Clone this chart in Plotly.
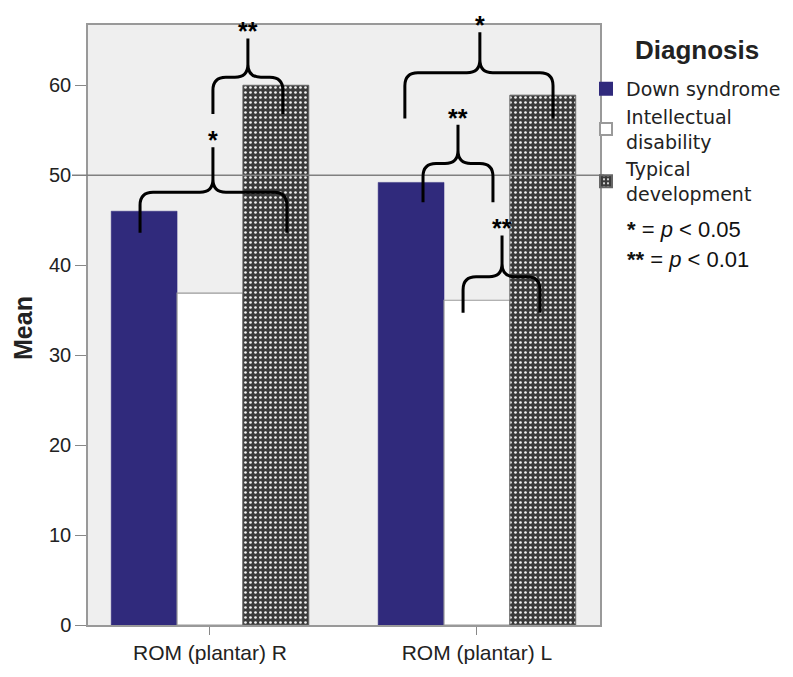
import plotly.graph_objects as go

# ---------------- data ----------------
categories = ["ROM (plantar) R", "ROM (plantar) L"]
cat_pos = [0, 1]
down_syndrome = [46.0, 49.2]
intellectual_disability = [36.9, 36.1]
typical_development = [60.0, 58.9]
series_names = ["Down syndrome", "Intellectual<br>disability", "Typical<br>development"]
y_ticks = [0, 10, 20, 30, 40, 50, 60]
reference_value = 50

# significance braces (x in category units, y in data units)
brace_x0 = [-0.262, 0.011, 0.730, 0.798, 0.948]
brace_x1 = [0.288, 0.273, 1.285, 1.060, 1.236]
brace_xm = [0.011, 0.142, 1.011, 0.929, 1.094]
brace_yend = [43.6, 56.8, 56.3, 47.0, 34.7]
brace_ybar = [48.1, 60.9, 61.4, 51.3, 38.7]
brace_ytip = [53.1, 65.2, 65.9, 55.6, 43.3]
brace_label = ["*", "**", "*", "**", "**"]

# ---------------- layout geometry ----------------
OFF = 8                      # page body margin
W, H = 793 - OFF, 677 - OFF
PL, PR, PT, PB = 88, 600, 25, 625   # plot box in window pixels
ML, MT = PL - OFF, PT - OFF
MR, MB = W - (PR - OFF), H - (PB - OFF)
XR = [-0.457, 1.461]
ymax = 66.7


def px_x(px):
    return (px - PL) / (PR - PL)


def px_y(py):
    return 1 - (py - PT) / (PB - PT)


FONT = "Liberation Sans, Arial, sans-serif"
fig = go.Figure()
fig.add_trace(go.Bar(x=cat_pos, y=down_syndrome, name=series_names[0],
                     marker=dict(color="#302a7c", line=dict(color="#302a7c", width=0.5))))
fig.add_trace(go.Bar(x=cat_pos, y=intellectual_disability, name=series_names[1],
                     marker=dict(color="white", line=dict(color="#9a9a9a", width=1.2))))
fig.add_trace(go.Bar(x=cat_pos, y=typical_development, name=series_names[2],
                     marker=dict(color="#3a3a3a", line=dict(color="#666", width=1),
                                 pattern=dict(shape=".", fgcolor="#f2f2f2", bgcolor="#3a3a3a",
                                              size=5, solidity=0.22, fillmode="replace"))))

fig.update_layout(
    width=W, height=H,
    margin=dict(l=ML, r=MR, t=MT, b=MB, autoexpand=False),
    paper_bgcolor="white", plot_bgcolor="#efefef",
    barmode="group", bargap=0.26, bargroupgap=0,
    font=dict(family=FONT, size=20, color="#222"),
    showlegend=True,
    legend=dict(x=px_x(586), xanchor="left", y=px_y(70), yanchor="top",
                font=dict(family="DejaVu Sans, sans-serif", size=19, color="#222"),
                bgcolor="rgba(0,0,0,0)", tracegroupgap=0, itemsizing="constant"),
    xaxis=dict(range=XR, tickvals=cat_pos, ticktext=categories,
               showline=True, linecolor="#999", linewidth=1.5, mirror=True,
               ticks="outside", ticklen=8, tickcolor="#888", showgrid=False, zeroline=False,
               tickfont=dict(family=FONT, size=21, color="#222")),
    yaxis=dict(range=[0, ymax], tickvals=y_ticks, showline=True, linecolor="#999",
               linewidth=1.5, mirror=True, ticks="outside", ticklen=11, tickcolor="#888",
               showgrid=False, zeroline=False,
               tickfont=dict(family=FONT, size=20, color="#222")),
)

# reference line at 50
fig.add_shape(type="line", xref="paper", yref="y", x0=px_x(72), x1=px_x(604),
              y0=reference_value, y1=reference_value,
              line=dict(color="#808080", width=1.5), layer="above")

# braces
rx_px, ry_px = 13, 13
x_per_px = (XR[1] - XR[0]) / (PR - PL)
y_per_px = ymax / (PB - PT)
rx, ry = rx_px * x_per_px, ry_px * y_per_px
for x0, x1, xm, ye, yb, yt, lab in zip(brace_x0, brace_x1, brace_xm, brace_yend,
                                       brace_ybar, brace_ytip, brace_label):
    path = (f"M{x0},{ye} L{x0},{yb-ry} Q{x0},{yb} {x0+rx},{yb} L{xm-rx},{yb} "
            f"Q{xm},{yb} {xm},{yb+ry} L{xm},{yt} "
            f"M{x1},{ye} L{x1},{yb-ry} Q{x1},{yb} {x1-rx},{yb} L{xm+rx},{yb} "
            f"Q{xm},{yb} {xm},{yb+ry}")
    fig.add_shape(type="path", xref="x", yref="y", path=path,
                  line=dict(color="black", width=3), layer="above")
    fig.add_annotation(x=xm, y=yt, xref="x", yref="y", text=f"<b>{lab}</b>",
                       showarrow=False, yanchor="bottom", yshift=-9,
                       font=dict(family=FONT, size=25, color="black"))

# axis title
fig.add_annotation(x=px_x(23), y=px_y(328), xref="paper", yref="paper", text="<b>Mean</b>",
                   textangle=-90, showarrow=False, xanchor="center", yanchor="middle",
                   font=dict(family=FONT, size=25, color="#222"))
# legend title
fig.add_annotation(x=px_x(697), y=px_y(50), xref="paper", yref="paper", text="<b>Diagnosis</b>",
                   showarrow=False, xanchor="center", yanchor="middle",
                   font=dict(family=FONT, size=26, color="#222"))

# p-value key
fig.add_annotation(x=px_x(625), y=px_y(229), xref="paper", yref="paper",
                   xanchor="left", showarrow=False, text="<b>*</b> = <i>p</i> < 0.05",
                   font=dict(family=FONT, size=22, color="#111"))
fig.add_annotation(x=px_x(625), y=px_y(260), xref="paper", yref="paper",
                   xanchor="left", showarrow=False, text="<b>**</b> = <i>p</i> < 0.01",
                   font=dict(family=FONT, size=22, color="#111"))

fig.write_html("out.html")
